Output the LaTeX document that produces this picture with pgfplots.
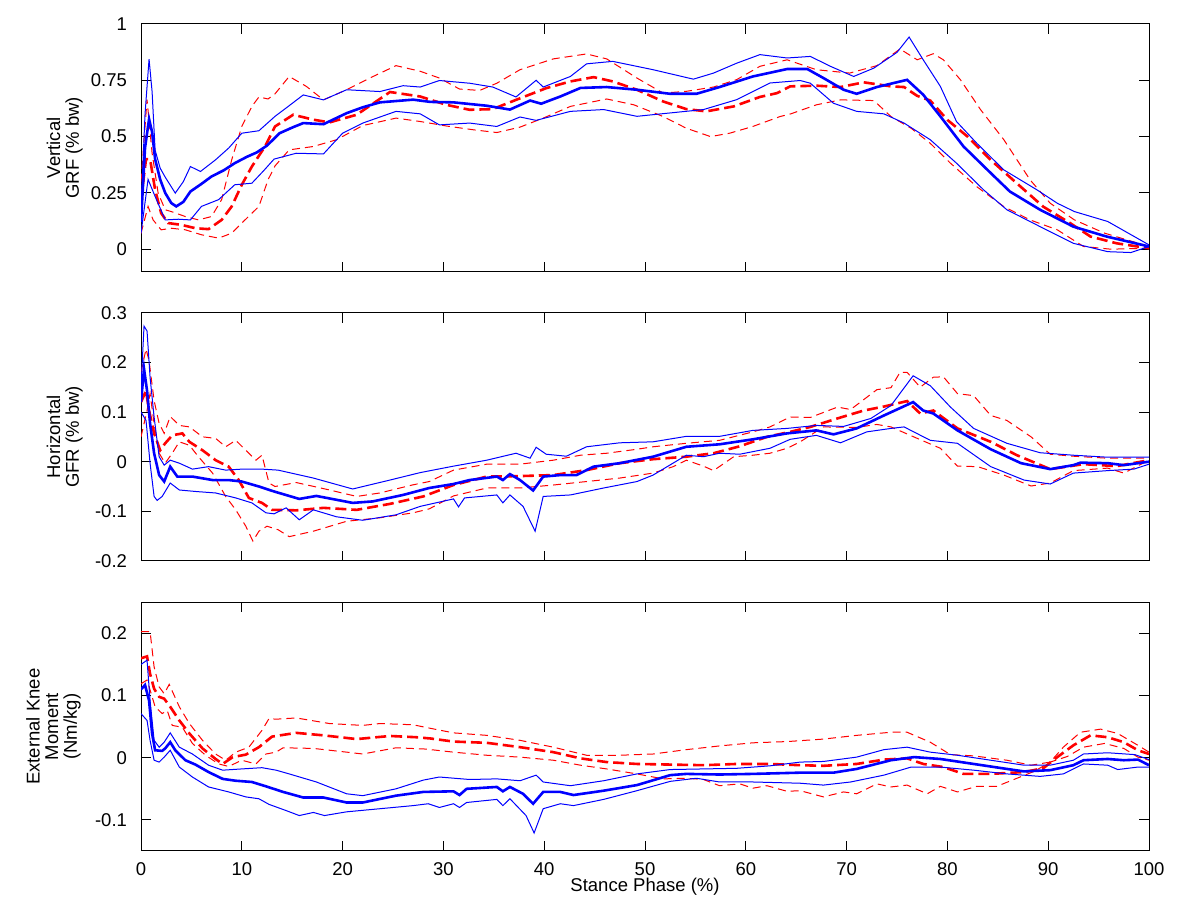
\documentclass[border=0pt]{standalone}
\usepackage{fontspec}
\setmainfont{Liberation Sans}
\usepackage{pgfplots}
\pgfplotsset{compat=1.18}
\definecolor{mblue}{RGB}{0,0,255}
\definecolor{mred}{RGB}{255,0,0}
\pgfplotsset{
  mstyle/.style={
    scale only axis, width=504pt,
    xmin=0, xmax=100, xtick={0,10,...,100},
    tick align=inside, major tick length=5pt,
    axis line style={line width=0.5pt}, tick style={line width=0.5pt, black},
    font=\fontsize{9.25}{9.3}\selectfont,
    /pgf/number format/assume math mode=true,
    xticklabel style={yshift=-2.5pt},
    yticklabel style={xshift=-3.5pt},
    ylabel style={at={(rel axis cs:0,0.5)}, anchor=south, yshift=29pt, inner sep=0pt, align=center},
    clip=true,
  },
  bmean/.style={mblue, line width=1.3pt, solid},
  bsd/.style={mblue, line width=0.5pt, solid},
  rmean/.style={mred, line width=1.3pt, dash pattern=on 5.5pt off 2.5pt},
  rsd/.style={mred, line width=0.5pt, dash pattern=on 4pt off 2.5pt},
}
\begin{document}
\begin{tikzpicture}
\path[use as bounding box] (0,0) rectangle (592pt,452.5pt);
% ---------------- Panel 1 ----------------
\begin{axis}[mstyle, at={(70.5pt,316.65pt)}, anchor=south west, height=123.85pt,
  ymin=-0.1, ymax=1, ytick={0,0.25,0.5,0.75,1}, yticklabels={0,0.25,0.5,0.75,1},
  xticklabels={}, ylabel={Vertical\\GRF (\% bw)}]
\addplot[rsd] coordinates {(0,0.3) (0.6,0.664) (1.1,0.427) (1.7,0.249) (2.4,0.175) (3.0,0.167) (4.4,0.145) (5.7,0.13) (7.0,0.145) (8.0,0.22) (9.0,0.397) (10.0,0.545) (11.0,0.634) (11.7,0.676) (12.6,0.667) (13.3,0.69) (14.7,0.767) (16.4,0.723) (18.1,0.663) (20.4,0.708) (22.7,0.760) (25.3,0.815) (27.7,0.79) (29.6,0.76) (31.6,0.711) (33.6,0.705) (35.3,0.737) (37.6,0.797) (40.9,0.845) (44.2,0.867) (46.2,0.845) (49.2,0.76) (51.8,0.693) (54.1,0.701) (56.8,0.72) (59.1,0.753) (61.4,0.812) (64.1,0.841) (67.0,0.797) (70.3,0.782) (73.0,0.815) (75.3,0.889) (77.0,0.841) (78.6,0.868) (79.6,0.841) (81.3,0.752) (83.3,0.619) (85.6,0.486) (88.2,0.308) (90.2,0.204) (92.6,0.13) (95.6,0.071) (100,0.012)};
\addplot[rsd] coordinates {(0,0.07) (0.7,0.19) (1.2,0.13) (2.0,0.086) (3.0,0.093) (4.4,0.086) (6.0,0.064) (7.7,0.049) (9.0,0.071) (10.0,0.116) (11.7,0.19) (12.6,0.308) (13.3,0.37) (14.7,0.441) (17.1,0.456) (19.4,0.486) (22.0,0.549) (25.3,0.582) (27.7,0.567) (30.3,0.547) (33.0,0.53) (35.3,0.518) (37.6,0.542) (39.9,0.582) (42.6,0.634) (46.2,0.667) (48.9,0.641) (51.8,0.589) (54.1,0.537) (56.5,0.50) (58.4,0.515) (60.7,0.545) (63.4,0.589) (64.4,0.60) (67.0,0.641) (69.4,0.663) (72.7,0.66) (74.4,0.589) (76.4,0.537) (78.3,0.47) (80.3,0.382) (82.9,0.278) (85.6,0.189) (88.2,0.13) (90.9,0.086) (93.5,0.012) (96.2,0.0) (100,0.004)};
\addplot[rmean] coordinates {(0,0.22) (0.5,0.40) (0.9,0.40) (1.4,0.264) (2.0,0.16) (2.7,0.116) (4.0,0.108) (5.4,0.093) (6.7,0.089) (8.0,0.13) (9.0,0.19) (10.0,0.286) (11.0,0.367) (12.3,0.456) (13.3,0.545) (15.1,0.597) (17.1,0.575) (18.7,0.563) (21.4,0.597) (24.7,0.698) (27.7,0.678) (30.3,0.641) (32.6,0.619) (34.9,0.622) (37.2,0.663) (40.2,0.715) (42.6,0.745) (44.9,0.764) (46.8,0.745) (49.2,0.708) (51.8,0.656) (54.1,0.622) (56.1,0.612) (58.8,0.634) (61.4,0.676) (63.1,0.693) (64.4,0.723) (67.0,0.726) (69.4,0.72) (71.7,0.741) (74.4,0.723) (75.7,0.72) (77.0,0.681) (78.3,0.66) (80.0,0.574) (82.0,0.50) (84.3,0.396) (86.9,0.292) (89.5,0.189) (92.2,0.115) (94.2,0.056) (96.8,0.026) (100,0.004)};
\addplot[bsd] coordinates {(0,0.18) (0.4,0.6) (0.8,0.844) (1.1,0.70) (1.4,0.44) (1.9,0.36) (2.4,0.32) (3.4,0.249) (4.2,0.30) (4.9,0.367) (5.9,0.345) (7.4,0.397) (8.7,0.449) (10.0,0.515) (11.7,0.526) (13.3,0.59) (14.4,0.627) (16.1,0.685) (18.1,0.663) (20.4,0.708) (23.7,0.70) (26.0,0.726) (27.7,0.72) (29.6,0.749) (32.6,0.737) (34.9,0.72) (37.2,0.676) (39.2,0.75) (39.9,0.72) (42.6,0.767) (44.2,0.823) (46.8,0.834) (50.8,0.797) (54.8,0.755) (56.8,0.782) (59.1,0.826) (61.4,0.864) (64.1,0.849) (66.4,0.856) (68.4,0.812) (70.7,0.767) (72.7,0.804) (75.0,0.874) (76.2,0.942) (77.6,0.841) (79.3,0.723) (80.9,0.567) (82.9,0.471) (85.6,0.352) (88.9,0.263) (90.9,0.204) (92.6,0.167) (95.9,0.123) (100,0.019)};
\addplot[bsd] coordinates {(0,0.07) (0.7,0.31) (1.4,0.234) (2.4,0.13) (3.7,0.133) (4.9,0.13) (6.0,0.19) (7.7,0.22) (9.3,0.286) (11.0,0.293) (12.2,0.35) (13.2,0.40) (15.4,0.426) (18.1,0.423) (20.0,0.515) (22.0,0.56) (25.3,0.612) (27.7,0.601) (29.6,0.552) (32.6,0.56) (35.3,0.545) (37.6,0.587) (39.2,0.572) (42.6,0.612) (45.9,0.62) (49.2,0.59) (52.5,0.605) (55.8,0.62) (59.1,0.664) (62.4,0.738) (65.4,0.749) (66.4,0.737) (68.7,0.648) (71.0,0.612) (73.7,0.601) (75.7,0.56) (78.3,0.486) (80.9,0.382) (83.6,0.263) (85.9,0.175) (89.2,0.10) (92.5,0.026) (95.9,-0.011) (98.2,-0.015) (100,0.012)};
\addplot[bmean] coordinates {(0,0.12) (0.4,0.45) (0.8,0.578) (1.1,0.52) (1.4,0.40) (1.9,0.31) (2.4,0.25) (3.0,0.205) (3.5,0.19) (4.2,0.21) (4.9,0.256) (6.0,0.29) (7.0,0.323) (8.2,0.35) (9.3,0.382) (10.5,0.41) (11.5,0.43) (12.5,0.46) (13.75,0.515) (15,0.54) (16.1,0.56) (18.1,0.555) (20.4,0.604) (22,0.63) (23.7,0.652) (27,0.664) (28.7,0.654) (31,0.652) (34.3,0.637) (36.6,0.62) (38.6,0.66) (39.7,0.646) (41.6,0.678) (43.6,0.716) (46.2,0.72) (49.2,0.708) (52.5,0.69) (55.1,0.69) (57.4,0.72) (60.7,0.767) (64.1,0.8) (66.1,0.80) (67.7,0.76) (69.7,0.708) (71.0,0.69) (73.0,0.72) (76.0,0.752) (77.6,0.686) (79.3,0.59) (81.6,0.456) (84.3,0.338) (86.2,0.256) (89.2,0.175) (92.5,0.10) (95.8,0.056) (100,0.012)};
\end{axis}
% ---------------- Panel 2 ----------------
\begin{axis}[mstyle, at={(70.5pt,172pt)}, anchor=south west, height=124.15pt,
  ymin=-0.2, ymax=0.3, ytick={-0.2,-0.1,0,0.1,0.2,0.3}, yticklabels={-0.2,-0.1,0,0.1,0.2,0.3},
  xticklabels={}, ylabel={Horizontal\\GFR (\% bw)}]
\addplot[rsd] coordinates {(0,0.18) (0.5,0.227) (0.8,0.203) (1.3,0.123) (1.8,0.077) (2.3,0.057) (2.9,0.091) (3.8,0.073) (4.8,0.07) (6.1,0.05) (7.4,0.047) (8.4,0.03) (9.4,0.043) (10.4,0.023) (11.4,0.003) (12.0,0.013) (12.7,-0.043) (13.3,-0.05) (15.4,-0.042) (18.7,-0.057) (21.4,-0.07) (23.7,-0.063) (26.9,-0.047) (28.6,-0.04) (31.0,-0.017) (34.3,-0.005) (37.6,-0.005) (40.9,0.003) (43.6,0.013) (46.2,0.017) (49.2,0.025) (50.8,0.03) (54.1,0.037) (57.4,0.043) (60.7,0.06) (62.4,0.07) (64.4,0.09) (66.4,0.089) (69.1,0.11) (70.4,0.105) (73.0,0.145) (74.4,0.149) (75.3,0.18) (76.0,0.18) (77.3,0.15) (78.6,0.17) (79.6,0.171) (81.0,0.137) (82.6,0.133) (84.3,0.093) (85.9,0.083) (88.3,0.05) (90.2,0.015) (92.5,0.011) (95.9,0.007) (100,0.007)};
\addplot[rsd] coordinates {(0,0.05) (0.6,0.103) (0.9,0.137) (1.3,0.077) (1.8,0.017) (2.4,-0.003) (3.1,0.017) (3.8,0.04) (4.8,0.033) (5.7,0.01) (7.1,-0.023) (8.4,-0.07) (9.4,-0.097) (10.4,-0.13) (11.1,-0.16) (11.7,-0.14) (12.5,-0.13) (13.6,-0.137) (14.7,-0.151) (17.1,-0.14) (20.4,-0.12) (23.7,-0.113) (27.0,-0.103) (28.6,-0.095) (31.0,-0.069) (34.3,-0.053) (37.6,-0.053) (40.9,-0.047) (44.2,-0.04) (47.5,-0.033) (50.8,-0.023) (52.8,-0.01) (54.1,0.003) (55.8,-0.009) (56.8,-0.018) (58.8,0.01) (60.7,0.013) (62.4,0.017) (64.1,0.027) (65.4,0.04) (67.7,0.07) (71.0,0.069) (73.0,0.075) (74.4,0.07) (77.0,0.047) (79.3,0.027) (81.0,-0.009) (83.0,-0.01) (85.6,-0.027) (88.3,-0.049) (90.2,-0.043) (92.5,-0.018) (95.9,-0.013) (97.5,-0.023) (100,0.003)};
\addplot[rmean] coordinates {(0,0.12) (0.5,0.143) (0.8,0.103) (1.3,0.057) (1.9,0.023) (2.4,0.037) (3.1,0.053) (4.1,0.057) (4.8,0.04) (6.1,0.023) (7.4,0.003) (8.7,-0.01) (9.7,-0.037) (10.7,-0.073) (12.0,-0.083) (13.0,-0.097) (15.4,-0.098) (18.1,-0.093) (21.4,-0.097) (24.7,-0.085) (28.0,-0.07) (31.0,-0.047) (34.3,-0.03) (37.6,-0.029) (40.9,-0.027) (44.2,-0.017) (47.5,-0.003) (50.8,0.005) (54.1,0.01) (56.8,0.017) (59.4,0.031) (62.1,0.05) (64.4,0.06) (66.4,0.07) (69.4,0.089) (71.7,0.103) (73.7,0.111) (76.0,0.122) (77.3,0.097) (78.6,0.103) (81.0,0.067) (84.3,0.04) (86.9,0.013) (90.2,-0.015) (93.5,-0.005) (96.8,-0.009) (100,0.003)};
\addplot[bsd] coordinates {(0,0.15) (0.3,0.273) (0.6,0.263) (0.9,0.17) (1.3,0.09) (1.8,0.01) (2.3,-0.007) (2.9,0.003) (3.8,-0.003) (5.1,-0.015) (6.7,-0.01) (8.4,-0.017) (10.0,-0.015) (12.0,-0.015) (13.6,-0.017) (17.1,-0.033) (21.0,-0.055) (24.7,-0.037) (27.7,-0.022) (31.0,-0.009) (34.3,0.003) (37.2,0.017) (38.6,0.007) (39.2,0.029) (40.2,0.015) (42.2,0.011) (44.2,0.03) (47.5,0.038) (50.8,0.04) (54.1,0.051) (57.4,0.051) (60.7,0.063) (64.1,0.067) (67.0,0.073) (69.7,0.071) (72.4,0.087) (74.4,0.113) (76.6,0.173) (78.3,0.153) (80.3,0.11) (82.6,0.067) (85.9,0.037) (89.2,0.018) (92.5,0.013) (95.9,0.009) (100,0.009)};
\addplot[bsd] coordinates {(0,0.10) (0.5,0.083) (0.9,-0.003) (1.3,-0.07) (1.6,-0.078) (2.1,-0.07) (2.9,-0.043) (3.8,-0.057) (5.4,-0.06) (7.4,-0.063) (9.4,-0.073) (11.0,-0.083) (12.4,-0.103) (13.2,-0.105) (14.4,-0.093) (15.7,-0.117) (17.1,-0.097) (19.4,-0.111) (22.0,-0.118) (25.3,-0.107) (27.7,-0.09) (31.0,-0.075) (31.5,-0.091) (32.1,-0.073) (35.3,-0.067) (35.9,-0.083) (36.6,-0.067) (37.9,-0.09) (39.1,-0.14) (39.9,-0.07) (42.6,-0.067) (45.9,-0.053) (49.2,-0.04) (50.8,-0.027) (54.1,0.013) (55.8,0.01) (57.4,0.017) (59.4,0.015) (62.4,0.027) (64.4,0.045) (67.0,0.053) (69.4,0.038) (72.0,0.06) (74.4,0.067) (75.7,0.07) (78.3,0.043) (81.0,0.037) (84.3,-0.01) (87.6,-0.037) (90.2,-0.045) (92.5,-0.023) (95.9,-0.018) (98.5,-0.015) (100,-0.005)};
\addplot[bmean] coordinates {(0,0.12) (0.3,0.187) (0.6,0.143) (0.9,0.077) (1.3,0.017) (1.8,-0.027) (2.3,-0.04) (2.9,-0.01) (3.6,-0.03) (5.1,-0.03) (7.1,-0.037) (8.7,-0.037) (10.0,-0.04) (11.7,-0.05) (13.2,-0.06) (15.7,-0.075) (17.4,-0.069) (21.0,-0.083) (23.0,-0.08) (26.0,-0.067) (28.6,-0.053) (31.0,-0.045) (32.6,-0.037) (35.3,-0.03) (35.9,-0.037) (36.6,-0.025) (37.6,-0.037) (38.9,-0.058) (39.9,-0.03) (41.6,-0.027) (43.2,-0.027) (44.9,-0.01) (47.5,-0.003) (50.8,0.01) (54.1,0.03) (57.4,0.035) (60.7,0.045) (64.1,0.057) (67.0,0.063) (68.7,0.055) (71.0,0.067) (73.7,0.093) (76.6,0.12) (77.6,0.103) (78.6,0.097) (81.0,0.063) (84.3,0.025) (87.3,-0.003) (90.2,-0.015) (92.5,-0.007) (93.2,-0.002) (95.9,-0.003) (97.5,-0.007) (100,0)};
\end{axis}
% ---------------- Panel 3 ----------------
\begin{axis}[mstyle, at={(70.5pt,27pt)}, anchor=south west, height=124.35pt,
  ymin=-0.15, ymax=0.25, ytick={-0.1,0,0.1,0.2}, yticklabels={-0.1,0,0.1,0.2},
  xticklabels={0,10,20,30,40,50,60,70,80,90,100},
  ylabel={External Knee\\Moment\\(Nm/kg)}, ylabel style={yshift=1pt},
  xlabel={Stance Phase (\%)},
  xlabel style={at={(rel axis cs:0.5,0)}, anchor=north, yshift=-13.5pt, inner sep=0pt}]
\addplot[rsd] coordinates {(0,0.203) (0.9,0.203) (1.3,0.146) (1.8,0.114) (2.3,0.103) (2.8,0.118) (3.8,0.082) (4.8,0.055) (6.1,0.028) (7.4,0.006) (8.4,-0.004) (9.4,0.009) (10.7,0.017) (12.0,0.044) (12.7,0.063) (13.4,0.062) (15.4,0.064) (18.7,0.055) (22.0,0.052) (23.7,0.055) (27.0,0.053) (28.5,0.048) (31.0,0.04) (34.3,0.036) (37.6,0.028) (40.9,0.017) (44.2,0.004) (47.5,0.004) (50.8,0.006) (54.1,0.013) (57.4,0.019) (60.7,0.024) (64.1,0.026) (67.7,0.03) (71.0,0.036) (74.4,0.041) (76.0,0.041) (78.3,0.025) (80.3,0.005) (82.6,0.003) (85.9,-0.004) (88.3,-0.012) (90.2,-0.007) (91.5,0.017) (93.2,0.041) (95.2,0.046) (96.9,0.039) (98.9,0.02) (100,0.009)};
\addplot[rsd] coordinates {(0,0.119) (0.6,0.125) (0.9,0.109) (1.4,0.082) (2.1,0.071) (2.6,0.076) (3.1,0.052) (4.1,0.049) (5.1,0.023) (6.4,0.004) (7.7,-0.01) (8.7,-0.014) (10.0,-0.004) (11.4,-0.01) (12.4,0.006) (13.4,0.009) (14.1,0.016) (17.1,0.015) (20.4,0.009) (22.0,0.006) (25.3,0.016) (28.2,0.014) (31.0,0.009) (34.3,0.004) (37.6,0.001) (40.9,-0.004) (43.6,-0.012) (46.2,-0.018) (49.2,-0.026) (51.8,-0.034) (54.1,-0.033) (55.8,-0.035) (57.4,-0.045) (59.4,-0.042) (60.7,-0.049) (62.1,-0.045) (64.1,-0.054) (65.4,-0.053) (67.7,-0.063) (69.7,-0.055) (71.0,-0.058) (73.0,-0.042) (74.4,-0.047) (76.0,-0.044) (78.0,-0.058) (79.3,-0.046) (81.0,-0.055) (82.9,-0.046) (84.9,-0.046) (86.9,-0.033) (88.6,-0.022) (90.2,-0.007) (91.9,0.002) (93.5,0.017) (95.6,0.023) (97.5,0.015) (98.9,0.001) (100,-0.004)};
\addplot[rmean] coordinates {(0,0.16) (0.6,0.163) (0.9,0.135) (1.3,0.111) (1.8,0.098) (2.3,0.095) (2.9,0.082) (3.8,0.06) (4.8,0.039) (6.1,0.015) (7.4,-0.002) (8.1,-0.01) (9.1,0.001) (10.4,0.005) (11.7,0.017) (13.0,0.034) (15.4,0.04) (18.1,0.036) (21.4,0.03) (24.7,0.035) (27.3,0.033) (28.7,0.031) (31.0,0.026) (34.3,0.024) (37.6,0.017) (40.9,0.009) (43.6,-0.001) (46.2,-0.007) (49.2,-0.01) (52.5,-0.011) (55.8,-0.012) (59.1,-0.01) (62.4,-0.01) (65.4,-0.012) (67.7,-0.013) (71.0,-0.01) (73.7,-0.003) (76.0,-0.001) (77.6,-0.01) (79.6,-0.015) (81.6,-0.026) (84.3,-0.026) (87.6,-0.023) (89.5,-0.017) (90.9,0.001) (92.5,0.02) (94.2,0.036) (95.9,0.033) (97.5,0.025) (98.9,0.012) (100,0.006)};
\addplot[bsd] coordinates {(0,0.15) (0.6,0.157) (0.9,0.092) (1.3,0.028) (1.8,0.017) (2.3,0.025) (2.9,0.04) (3.8,0.017) (5.1,0.006) (6.7,-0.012) (8.1,-0.02) (10.0,-0.018) (12.0,-0.016) (13.4,-0.02) (14.7,-0.026) (17.4,-0.039) (20.4,-0.058) (22.0,-0.061) (25.3,-0.05) (28.0,-0.036) (29.6,-0.031) (32.6,-0.035) (35.3,-0.034) (37.6,-0.037) (39.2,-0.028) (39.9,-0.039) (42.6,-0.045) (45.9,-0.037) (49.2,-0.026) (52.5,-0.019) (55.8,-0.018) (59.1,-0.017) (62.4,-0.013) (65.4,-0.007) (67.7,-0.006) (71.0,0.001) (73.7,0.013) (76.0,0.017) (78.3,0.009) (81.0,0.004) (84.3,-0.004) (87.6,-0.012) (90.2,-0.012) (92.5,-0.004) (93.5,0.006) (95.9,0.008) (98.6,0.005) (100,-0.003)};
\addplot[bsd] coordinates {(0,0.071) (0.6,0.06) (0.9,0.028) (1.3,-0.004) (1.8,-0.007) (2.3,0.001) (2.9,0.012) (3.8,-0.015) (5.1,-0.031) (6.7,-0.047) (8.7,-0.055) (10.4,-0.063) (11.7,-0.066) (12.7,-0.075) (14.4,-0.085) (15.7,-0.093) (17.1,-0.088) (18.2,-0.093) (20.4,-0.087) (23.7,-0.082) (27.0,-0.077) (28.5,-0.074) (29.6,-0.08) (31.0,-0.074) (31.6,-0.08) (32.3,-0.072) (35.3,-0.067) (35.9,-0.077) (36.6,-0.066) (38.2,-0.093) (39.0,-0.121) (39.9,-0.082) (41.6,-0.074) (42.9,-0.077) (45.9,-0.067) (49.2,-0.053) (52.5,-0.038) (55.1,-0.033) (57.4,-0.039) (60.7,-0.039) (65.4,-0.041) (67.7,-0.044) (70.4,-0.039) (73.7,-0.028) (76.4,-0.015) (79.3,-0.015) (82.6,-0.02) (85.9,-0.026) (89.2,-0.03) (91.5,-0.026) (93.5,-0.01) (95.9,-0.012) (96.9,-0.019) (98.9,-0.015) (100,-0.015)};
\addplot[bmean] coordinates {(0,0.11) (0.4,0.117) (0.8,0.092) (1.1,0.039) (1.4,0.012) (2.1,0.011) (2.4,0.015) (2.9,0.025) (3.4,0.012) (4.4,-0.004) (5.4,-0.011) (6.7,-0.023) (8.1,-0.034) (9.4,-0.037) (11.0,-0.039) (12.4,-0.046) (14.1,-0.055) (16.1,-0.064) (18.1,-0.064) (20.4,-0.072) (22.0,-0.072) (25.3,-0.061) (28.0,-0.055) (31.0,-0.054) (31.6,-0.06) (32.3,-0.05) (35.3,-0.047) (35.9,-0.054) (36.6,-0.047) (37.9,-0.058) (38.9,-0.074) (39.9,-0.055) (41.6,-0.055) (42.9,-0.06) (45.9,-0.053) (49.2,-0.044) (52.5,-0.028) (54.1,-0.026) (57.4,-0.027) (60.7,-0.026) (65.4,-0.024) (68.7,-0.024) (71.0,-0.018) (74.4,-0.004) (76.7,0.001) (79.3,-0.002) (82.6,-0.01) (85.9,-0.018) (87.6,-0.022) (90.2,-0.02) (92.5,-0.012) (93.5,-0.004) (95.9,-0.002) (97.5,-0.004) (98.9,-0.003) (100,-0.012)};
\end{axis}
\end{tikzpicture}
\end{document}
